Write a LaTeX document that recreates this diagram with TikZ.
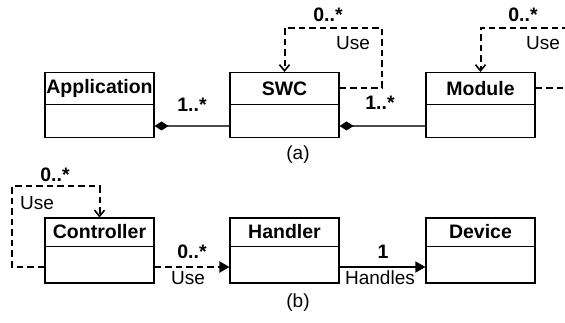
\documentclass[tikz,border=0pt]{standalone}
\usepackage{fontspec}
\setmainfont{Liberation Sans}
\usetikzlibrary{arrows.meta,calc}
\begin{document}
\begin{tikzpicture}[x=1pt,y=-1pt,
  font=\fontsize{19}{21}\selectfont,
  cls/.style={draw, line width=1.1pt, minimum width=109pt, minimum height=65pt, inner sep=0pt},
  ttl/.style={font=\fontsize{19.5}{21}\selectfont\bfseries, inner sep=0pt},
  mult/.style={font=\fontsize{19.5}{21}\selectfont\bfseries, inner sep=0pt},
  lbl/.style={inner sep=0pt},
  dep/.style={dash pattern=on 6.5pt off 4pt, line width=2pt},
  assoc/.style={line width=1.8pt, black!70},
  comp/.style={assoc, -{Diamond[length=14pt,width=9pt,black]}},
  open/.style={-{Straight Barb[length=6pt,width=10pt,line width=1.6pt]}},
  filled/.style={-{Triangle[length=10pt,width=11pt]}}]
\useasboundingbox (0,0) rectangle (565,323);
\clip (0,0) rectangle (565,323);
% boxes, row (a)
\node[cls] (app) at (99.5,105) {};
\node[cls] (swc) at (284.5,105) {};
\node[cls] (mod) at (480.5,105) {};
\foreach \n in {app,swc,mod}{\draw[line width=1.1pt] ($(\n.north west)+(0,33)$) -- ($(\n.north east)+(0,33)$);}
\node[ttl] (appT) at ($(app.north)+(0,16.5)$) {Application};
\node[ttl] (swcT) at ($(swc.north)+(0,16.5)$) {SWC};
\node[ttl] (modT) at ($(mod.north)+(0,16.5)$) {Module};
% boxes, row (b)
\node[cls] (ctrl) at (99.5,250.5) {};
\node[cls] (hdl) at (284.5,250.5) {};
\node[cls] (dev) at (480.5,250.5) {};
\foreach \n in {ctrl,hdl,dev}{\draw[line width=1.1pt] ($(\n.north west)+(0,29)$) -- ($(\n.north east)+(0,29)$);}
\node[ttl] (ctrlT) at ($(ctrl.north)+(0,14.5)$) {Controller};
\node[ttl] (hdlT) at ($(hdl.north)+(0,14.5)$) {Handler};
\node[ttl] (devT) at ($(dev.north)+(0,14.5)$) {Device};
% compositions
\draw[comp] ($(swc.west)+(0,21)$) -- ($(app.east)+(0,21)$);
\draw[comp] ($(mod.west)+(0,21)$) -- ($(swc.east)+(0,21)$);
\node[mult] (m1) at (192,105) {1..*};
\node[mult] (m2) at (380,103) {1..*};
% self loops row (a)
\draw[dep,open] ($(swc.east)+(0,-17)$) -- ++(42,0) |- ($(swc.north)+(0,-44)$) -- (swc.north);
\node[mult] (m3) at (328,15) {0..*};
\node[lbl] (u1) at (353,43) {Use};
\draw[dep,open] ($(mod.east)+(0,-17)$) -- ++(60,0) |- ($(mod.north)+(0,-44)$) -- (mod.north);
\node[mult] (m4) at (523,15) {0..*};
\node[lbl] (u2) at (543,43) {Use};
\node[lbl] (capA) at (298,155) {(a)};
% row (b)
\draw[dep,open] ($(ctrl.west)+(0,16.5)$) -- ++(-32,0) |- ($(ctrl.north)+(0,-31)$) -- (ctrl.north);
\node[mult] (m5) at (55,175) {0..*};
\node[lbl] (u3) at (37,203) {Use};
\draw[dep,filled] ($(ctrl.east)+(0,16.5)$) -- ($(hdl.west)+(0,16.5)$);
\node[mult] (m6) at (192,252) {0..*};
\node[lbl] (u4) at (188,278) {Use};
\draw[line width=1.5pt,filled] ($(hdl.east)+(0,16.5)$) -- ($(dev.west)+(0,16.5)$);
\node[mult] (m7) at (383,252) {1};
\node[lbl] (u5) at (380,278) {Handles};
\node[lbl] (capB) at (298,303) {(b)};
\end{tikzpicture}
\end{document}
